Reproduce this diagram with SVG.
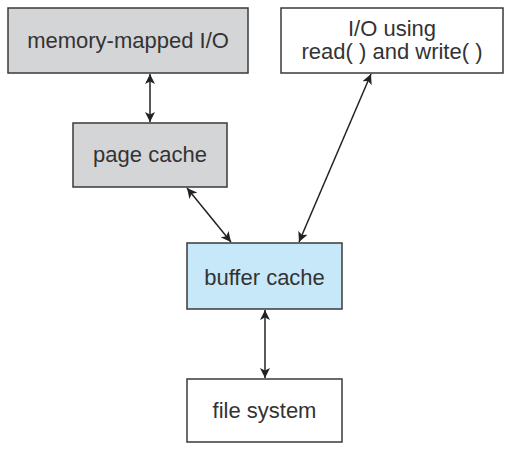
<svg xmlns="http://www.w3.org/2000/svg" width="511" height="451" viewBox="0 0 511 451">
<defs>
<marker id="ah" viewBox="0 0 10 10" refX="10" refY="5" markerWidth="10" markerHeight="10" markerUnits="userSpaceOnUse" orient="auto-start-reverse">
<path d="M0,0 L10,5 L0,10 L2.5,5 Z" fill="#222"/>
</marker>
</defs>
<style>
.box{stroke:#3a3a3a;stroke-width:1.5}
.gray{fill:#d4d5d7}
.blue{fill:#c7e8f9}
.white{fill:#fff}
text{font-family:"Liberation Sans",Arial,sans-serif;font-size:22px;fill:#333;text-anchor:middle}
.conn line{stroke:#222;stroke-width:1.5;marker-start:url(#ah);marker-end:url(#ah)}
</style>
<rect width="511" height="451" fill="#fff"/>
<g id="memory-mapped">
<rect class="box gray" x="8" y="8" width="240" height="65"/>
<text x="128" y="48">memory-mapped I/O</text>
</g>
<g id="page-cache">
<rect class="box gray" x="73" y="123" width="154" height="64"/>
<text x="150" y="162">page cache</text>
</g>
<g id="io-read-write">
<rect class="box white" x="281" y="8" width="222" height="65"/>
<text x="392" y="36">I/O using</text>
<text x="392" y="59">read( ) and write( )</text>
</g>
<g id="buffer-cache">
<rect class="box blue" x="187" y="243" width="155" height="66"/>
<text x="264.5" y="285">buffer cache</text>
</g>
<g id="file-system">
<rect class="box white" x="187" y="379" width="155" height="63"/>
<text x="264.5" y="418">file system</text>
</g>
<g id="connectors" class="conn">
<line x1="150" y1="74" x2="150" y2="122"/>
<line x1="187" y1="188" x2="231" y2="242"/>
<line x1="371" y1="74" x2="299" y2="242"/>
<line x1="265" y1="310" x2="265" y2="378"/>
</g>
</svg>
